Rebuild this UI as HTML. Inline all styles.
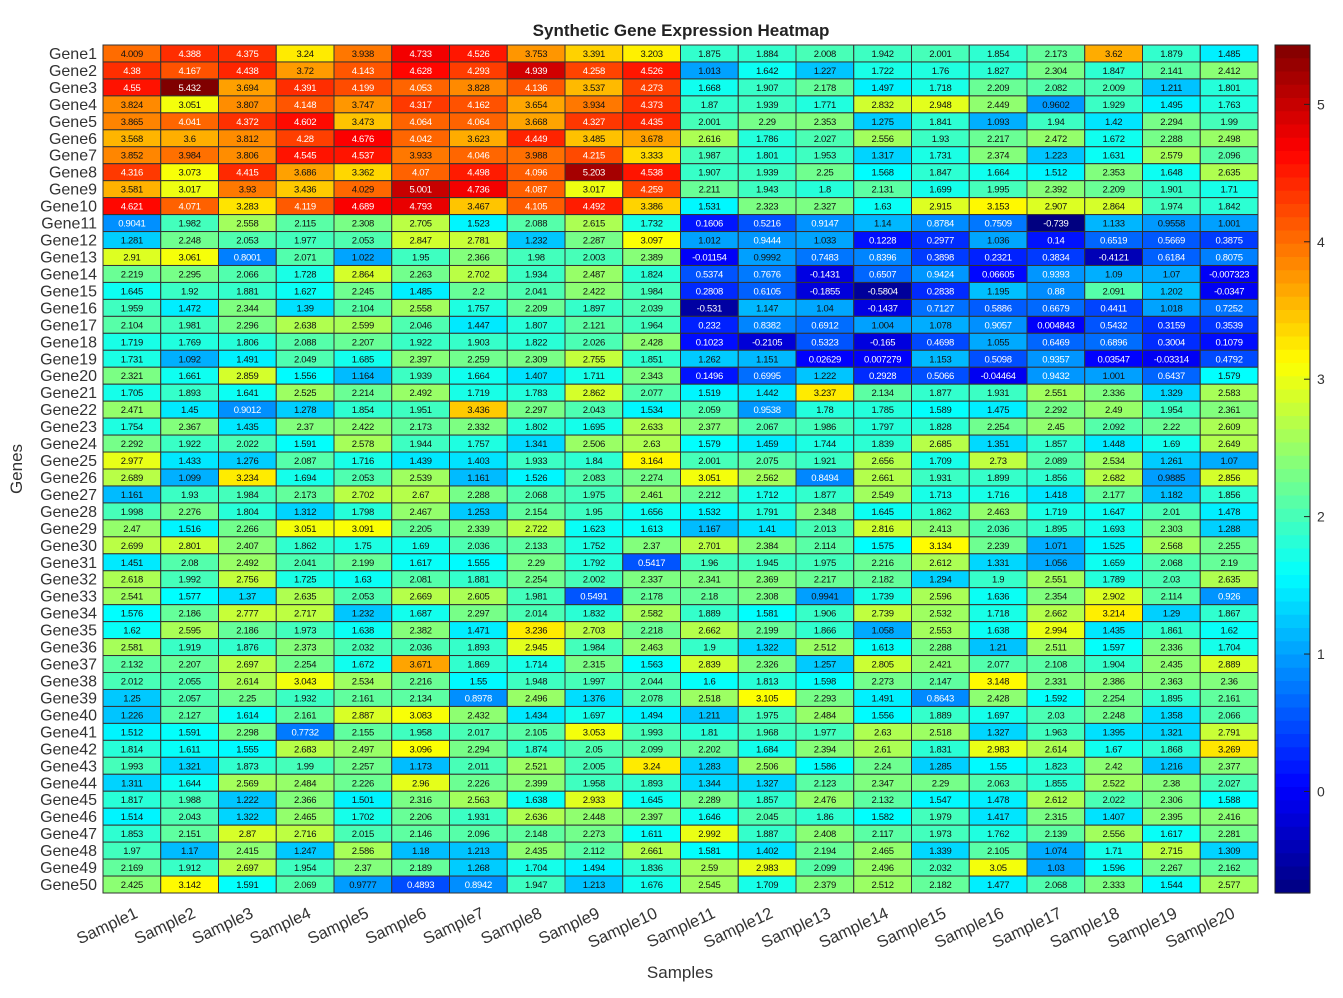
<!DOCTYPE html>
<html><head><meta charset="utf-8"><style>
body{margin:0;background:#fff;}
svg{display:block;font-family:"Liberation Sans",sans-serif;}
</style></head><body>
<svg id="chart" width="1343" height="998" viewBox="0 0 1343 998" xmlns="http://www.w3.org/2000/svg">
<rect width="1343" height="998" fill="#fff"/>
<text x="681" y="36" text-anchor="middle" font-size="17" font-weight="bold" fill="#222">Synthetic Gene Expression Heatmap</text>
<text x="680" y="978" text-anchor="middle" font-size="17" fill="#333">Samples</text>
<text x="22" y="469" text-anchor="middle" font-size="17" fill="#333" transform="rotate(-90 22 469)">Genes</text>
<g id="cells"></g>
<g id="rowlabels"></g>
<g id="collabels"></g>
<g id="cbar"></g>
</svg>
<script>
const genes = Array.from({length:50},(_, i)=>'Gene'+(i+1));
const samples = Array.from({length:20},(_, i)=>'Sample'+(i+1));
const values = [
[4.009,4.388,4.375,3.24,3.938,4.733,4.526,3.753,3.391,3.203,1.875,1.884,2.008,1.942,2.001,1.854,2.173,3.62,1.879,1.485],
[4.38,4.167,4.438,3.72,4.143,4.628,4.293,4.939,4.258,4.526,1.013,1.642,1.227,1.722,1.76,1.827,2.304,1.847,2.141,2.412],
[4.55,5.432,3.694,4.391,4.199,4.053,3.828,4.136,3.537,4.273,1.668,1.907,2.178,1.497,1.718,2.209,2.082,2.009,1.211,1.801],
[3.824,3.051,3.807,4.148,3.747,4.317,4.162,3.654,3.934,4.373,1.87,1.939,1.771,2.832,2.948,2.449,0.9602,1.929,1.495,1.763],
[3.865,4.041,4.372,4.602,3.473,4.064,4.064,3.668,4.327,4.435,2.001,2.29,2.353,1.275,1.841,1.093,1.94,1.42,2.294,1.99],
[3.568,3.6,3.812,4.28,4.676,4.042,3.623,4.449,3.485,3.678,2.616,1.786,2.027,2.556,1.93,2.217,2.472,1.672,2.288,2.498],
[3.852,3.984,3.806,4.545,4.537,3.933,4.046,3.988,4.215,3.333,1.987,1.801,1.953,1.317,1.731,2.374,1.223,1.631,2.579,2.096],
[4.316,3.073,4.415,3.686,3.362,4.07,4.498,4.096,5.203,4.538,1.907,1.939,2.25,1.568,1.847,1.664,1.512,2.353,1.648,2.635],
[3.581,3.017,3.93,3.436,4.029,5.001,4.736,4.087,3.017,4.259,2.211,1.943,1.8,2.131,1.699,1.995,2.392,2.209,1.901,1.71],
[4.621,4.071,3.283,4.119,4.689,4.793,3.467,4.105,4.492,3.386,1.531,2.323,2.327,1.63,2.915,3.153,2.907,2.864,1.974,1.842],
[0.9041,1.982,2.558,2.115,2.308,2.705,1.523,2.088,2.615,1.732,0.1606,0.5216,0.9147,1.14,0.8784,0.7509,-0.739,1.133,0.9558,1.001],
[1.281,2.248,2.053,1.977,2.053,2.847,2.781,1.232,2.287,3.097,1.012,0.9444,1.033,0.1228,0.2977,1.036,0.14,0.6519,0.5669,0.3875],
[2.91,3.061,0.8001,2.071,1.022,1.95,2.366,1.98,2.003,2.389,-0.01154,0.9992,0.7483,0.8396,0.3898,0.2321,0.3834,-0.4121,0.6184,0.8075],
[2.219,2.295,2.066,1.728,2.864,2.263,2.702,1.934,2.487,1.824,0.5374,0.7676,-0.1431,0.6507,0.9424,0.06605,0.9393,1.09,1.07,-0.007323],
[1.645,1.92,1.881,1.627,2.245,1.485,2.2,2.041,2.422,1.984,0.2808,0.6105,-0.1855,-0.5804,0.2838,1.195,0.88,2.091,1.202,-0.0347],
[1.959,1.472,2.344,1.39,2.104,2.558,1.757,2.209,1.897,2.039,-0.531,1.147,1.04,-0.1437,0.7127,0.5886,0.6679,0.4411,1.018,0.7252],
[2.104,1.981,2.296,2.638,2.599,2.046,1.447,1.807,2.121,1.964,0.232,0.8382,0.6912,1.004,1.078,0.9057,0.004843,0.5432,0.3159,0.3539],
[1.719,1.769,1.806,2.088,2.207,1.922,1.903,1.822,2.026,2.428,0.1023,-0.2105,0.5323,-0.165,0.4698,1.055,0.6469,0.6896,0.3004,0.1079],
[1.731,1.092,1.491,2.049,1.685,2.397,2.259,2.309,2.755,1.851,1.262,1.151,0.02629,0.007279,1.153,0.5098,0.9357,0.03547,-0.03314,0.4792],
[2.321,1.661,2.859,1.556,1.164,1.939,1.664,1.407,1.711,2.343,0.1496,0.6995,1.222,0.2928,0.5066,-0.04464,0.9432,1.001,0.6437,1.579],
[1.705,1.893,1.641,2.525,2.214,2.492,1.719,1.783,2.862,2.077,1.519,1.442,3.237,2.134,1.877,1.931,2.551,2.336,1.329,2.583],
[2.471,1.45,0.9012,1.278,1.854,1.951,3.436,2.297,2.043,1.534,2.059,0.9538,1.78,1.785,1.589,1.475,2.292,2.49,1.954,2.361],
[1.754,2.367,1.435,2.37,2.422,2.173,2.332,1.802,1.695,2.633,2.377,2.067,1.986,1.797,1.828,2.254,2.45,2.092,2.22,2.609],
[2.292,1.922,2.022,1.591,2.578,1.944,1.757,1.341,2.506,2.63,1.579,1.459,1.744,1.839,2.685,1.351,1.857,1.448,1.69,2.649],
[2.977,1.433,1.276,2.087,1.716,1.439,1.403,1.933,1.84,3.164,2.001,2.075,1.921,2.656,1.709,2.73,2.089,2.534,1.261,1.07],
[2.689,1.099,3.234,1.694,2.053,2.539,1.161,1.526,2.083,2.274,3.051,2.562,0.8494,2.661,1.931,1.899,1.856,2.682,0.9885,2.856],
[1.161,1.93,1.984,2.173,2.702,2.67,2.288,2.068,1.975,2.461,2.212,1.712,1.877,2.549,1.713,1.716,1.418,2.177,1.182,1.856],
[1.998,2.276,1.804,1.312,1.798,2.467,1.253,2.154,1.95,1.656,1.532,1.791,2.348,1.645,1.862,2.463,1.719,1.647,2.01,1.478],
[2.47,1.516,2.266,3.051,3.091,2.205,2.339,2.722,1.623,1.613,1.167,1.41,2.013,2.816,2.413,2.036,1.895,1.693,2.303,1.288],
[2.699,2.801,2.407,1.862,1.75,1.69,2.036,2.133,1.752,2.37,2.701,2.384,2.114,1.575,3.134,2.239,1.071,1.525,2.568,2.255],
[1.451,2.08,2.492,2.041,2.199,1.617,1.555,2.29,1.792,0.5417,1.96,1.945,1.975,2.216,2.612,1.331,1.056,1.659,2.068,2.19],
[2.618,1.992,2.756,1.725,1.63,2.081,1.881,2.254,2.002,2.337,2.341,2.369,2.217,2.182,1.294,1.9,2.551,1.789,2.03,2.635],
[2.541,1.577,1.37,2.635,2.053,2.669,2.605,1.981,0.5491,2.178,2.18,2.308,0.9941,1.739,2.596,1.636,2.354,2.902,2.114,0.926],
[1.576,2.186,2.777,2.717,1.232,1.687,2.297,2.014,1.832,2.582,1.889,1.581,1.906,2.739,2.532,1.718,2.662,3.214,1.29,1.867],
[1.62,2.595,2.186,1.973,1.638,2.382,1.471,3.236,2.703,2.218,2.662,2.199,1.866,1.058,2.553,1.638,2.994,1.435,1.861,1.62],
[2.581,1.919,1.876,2.373,2.032,2.036,1.893,2.945,1.984,2.463,1.9,1.322,2.512,1.613,2.288,1.21,2.511,1.597,2.336,1.704],
[2.132,2.207,2.697,2.254,1.672,3.671,1.869,1.714,2.315,1.563,2.839,2.326,1.257,2.805,2.421,2.077,2.108,1.904,2.435,2.889],
[2.012,2.055,2.614,3.043,2.534,2.216,1.55,1.948,1.997,2.044,1.6,1.813,1.598,2.273,2.147,3.148,2.331,2.386,2.363,2.36],
[1.25,2.057,2.25,1.932,2.161,2.134,0.8978,2.496,1.376,2.078,2.518,3.105,2.293,1.491,0.8643,2.428,1.592,2.254,1.895,2.161],
[1.226,2.127,1.614,2.161,2.887,3.083,2.432,1.434,1.697,1.494,1.211,1.975,2.484,1.556,1.889,1.697,2.03,2.248,1.358,2.066],
[1.512,1.591,2.298,0.7732,2.155,1.958,2.017,2.105,3.053,1.993,1.81,1.968,1.977,2.63,2.518,1.327,1.963,1.395,1.321,2.791],
[1.814,1.611,1.555,2.683,2.497,3.096,2.294,1.874,2.05,2.099,2.202,1.684,2.394,2.61,1.831,2.983,2.614,1.67,1.868,3.269],
[1.993,1.321,1.873,1.99,2.257,1.173,2.011,2.521,2.005,3.24,1.283,2.506,1.586,2.24,1.285,1.55,1.823,2.42,1.216,2.377],
[1.311,1.644,2.569,2.484,2.226,2.96,2.226,2.399,1.958,1.893,1.344,1.327,2.123,2.347,2.29,2.063,1.855,2.522,2.38,2.027],
[1.817,1.988,1.222,2.366,1.501,2.316,2.563,1.638,2.933,1.645,2.289,1.857,2.476,2.132,1.547,1.478,2.612,2.022,2.306,1.588],
[1.514,2.043,1.322,2.465,1.702,2.206,1.931,2.636,2.448,2.397,1.646,2.045,1.86,1.582,1.979,1.417,2.315,1.407,2.395,2.416],
[1.853,2.151,2.87,2.716,2.015,2.146,2.096,2.148,2.273,1.611,2.992,1.887,2.408,2.117,1.973,1.762,2.139,2.556,1.617,2.281],
[1.97,1.17,2.415,1.247,2.586,1.18,1.213,2.435,2.112,2.661,1.581,1.402,2.194,2.465,1.339,2.105,1.074,1.71,2.715,1.309],
[2.169,1.912,2.697,1.954,2.37,2.189,1.268,1.704,1.494,1.836,2.59,2.983,2.099,2.496,2.032,3.05,1.03,1.596,2.267,2.162],
[2.425,3.142,1.591,2.069,0.9777,0.4893,0.8942,1.947,1.213,1.676,2.545,1.709,2.379,2.512,2.182,1.477,2.068,2.333,1.544,2.577]
];
const cbarTicks = [0,1,2,3,4,5];

const NS='http://www.w3.org/2000/svg';
const X0=103,X1=1258,Y0=45,Y1=893;
const cw=(X1-X0)/samples.length, rh=(Y1-Y0)/genes.length;
const flat=values.flat();
const vmin=Math.min(...flat), vmax=Math.max(...flat);
function xPos(j){return X0+j*cw;}
function yPos(i){return Y0+i*rh;}
function cl(v){return Math.max(0,Math.min(1,v));}
function jet(v){
  const t=(v-vmin)/(vmax-vmin);
  const r=cl(1.5-Math.abs(4*t-3)), g=cl(1.5-Math.abs(4*t-2)), b=cl(1.5-Math.abs(4*t-1));
  return [r,g,b];
}
function rgb(c){return 'rgb('+c.map(x=>Math.round(x*255)).join(',')+')';}
function mk(tag,attrs,parent){const e=document.createElementNS(NS,tag);for(const k in attrs)e.setAttribute(k,attrs[k]);parent.appendChild(e);return e;}

const cells=document.getElementById('cells');
values.forEach((row,i)=>{
  row.forEach((v,j)=>{
    const c=jet(v);
    const r=mk('rect',{x:xPos(j),y:yPos(i),width:cw,height:rh,fill:rgb(c),stroke:'#333','stroke-width':1},cells);
    
    
    const lum=0.2126*c[0]+0.7152*c[1]+0.0722*c[2];
    const t=mk('text',{x:xPos(j)+cw/2,y:yPos(i)+rh/2+3.5,'text-anchor':'middle','font-size':9.5,fill:lum<0.5?'#fff':'#111','letter-spacing':'-0.3'},cells);
    
    
    t.textContent=String(v);
  });
});
const rl=document.getElementById('rowlabels');
genes.forEach((g,i)=>{
  const t=mk('text',{x:97,y:yPos(i)+rh/2+5.5,'text-anchor':'end','font-size':16,fill:'#333'},rl);
  
  
  t.textContent=g;
});
const cl2=document.getElementById('collabels');
samples.forEach((s,j)=>{
  const x=xPos(j)+cw/2+7, y=917;
  const t=mk('text',{x:x,y:y,'text-anchor':'end','font-size':16.5,fill:'#333',transform:'rotate(-25 '+x+' '+y+')'},cl2);
  
  
  t.textContent=s;
});
// colorbar
const cb=document.getElementById('cbar');
const CX=1275,CW=35,N=64;
for(let k=0;k<N;k++){
  const v=vmax-(k+0.5)*(vmax-vmin)/N;
  const r=mk('rect',{x:CX,y:Y0+k*(Y1-Y0)/N,width:CW,height:(Y1-Y0)/N+0.6,fill:rgb(jet(v))},cb);
  
  
}
const fr=mk('rect',{x:CX,y:Y0,width:CW,height:Y1-Y0,fill:'none',stroke:'#222','stroke-width':1},cb);


function cy(v){return Y0+(vmax-v)/(vmax-vmin)*(Y1-Y0);}
cbarTicks.forEach(v=>{
  const y=cy(v);
  const l=mk('line',{x1:CX+CW-6,x2:CX+CW,y1:y,y2:y,stroke:'#222','stroke-width':1},cb);
  
  
  const t=mk('text',{x:1317,y:y+5,'font-size':14,fill:'#333'},cb);
  
  
  t.textContent=v;
});
</script>
</body></html>
